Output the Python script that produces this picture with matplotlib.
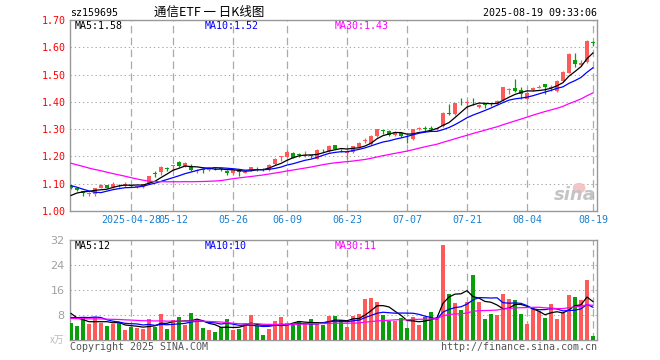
import numpy as np
import pandas as pd
import matplotlib
matplotlib.use('Agg')
import matplotlib.pyplot as plt
from matplotlib.patches import Ellipse

# daily bars 2025-04-14 .. 2025-08-19, 88 sessions
open_ = [1.090, 1.084, 1.072, 1.062, 1.064, 1.084, 1.096, 1.087, 1.096, 1.091,
         1.095, 1.088, 1.087, 1.104, 1.138, 1.143, 1.157, 1.166, 1.179, 1.166,
         1.161, 1.146, 1.153, 1.150, 1.161, 1.156, 1.145, 1.138, 1.146, 1.141,
         1.150, 1.162, 1.153, 1.152, 1.173, 1.197, 1.199, 1.213, 1.208, 1.203,
         1.205, 1.192, 1.228, 1.219, 1.241, 1.228, 1.213, 1.217, 1.235, 1.258,
         1.245, 1.274, 1.297, 1.294, 1.279, 1.287, 1.273, 1.263, 1.299, 1.304,
         1.303, 1.300, 1.311, 1.358, 1.354, 1.400, 1.396, 1.400, 1.380, 1.390,
         1.393, 1.392, 1.405, 1.445, 1.449, 1.442, 1.411, 1.442, 1.452, 1.464,
         1.452, 1.440, 1.477, 1.507, 1.555, 1.536, 1.545, 1.620]
high = [1.096, 1.087, 1.074, 1.070, 1.086, 1.098, 1.097, 1.106, 1.100, 1.106,
        1.097, 1.093, 1.100, 1.130, 1.146, 1.164, 1.162, 1.170, 1.183, 1.181,
        1.174, 1.154, 1.156, 1.160, 1.162, 1.160, 1.150, 1.151, 1.148, 1.146,
        1.163, 1.163, 1.157, 1.173, 1.195, 1.202, 1.225, 1.215, 1.214, 1.220,
        1.207, 1.228, 1.229, 1.243, 1.243, 1.229, 1.225, 1.240, 1.252, 1.268,
        1.278, 1.302, 1.298, 1.296, 1.293, 1.289, 1.278, 1.302, 1.309, 1.311,
        1.310, 1.305, 1.362, 1.392, 1.396, 1.415, 1.405, 1.415, 1.392, 1.395,
        1.397, 1.406, 1.456, 1.452, 1.483, 1.455, 1.435, 1.453, 1.463, 1.466,
        1.460, 1.480, 1.512, 1.580, 1.578, 1.552, 1.628, 1.622]
low = [1.080, 1.072, 1.055, 1.055, 1.056, 1.083, 1.084, 1.084, 1.088, 1.089,
       1.088, 1.085, 1.085, 1.100, 1.124, 1.132, 1.146, 1.152, 1.162, 1.162,
       1.147, 1.140, 1.140, 1.147, 1.152, 1.148, 1.133, 1.135, 1.130, 1.139,
       1.146, 1.147, 1.146, 1.148, 1.170, 1.183, 1.197, 1.193, 1.198, 1.198,
       1.195, 1.190, 1.215, 1.217, 1.226, 1.216, 1.192, 1.213, 1.232, 1.250,
       1.242, 1.271, 1.283, 1.274, 1.276, 1.270, 1.251, 1.260, 1.297, 1.293,
       1.295, 1.296, 1.309, 1.351, 1.352, 1.387, 1.375, 1.388, 1.376, 1.378,
       1.385, 1.390, 1.403, 1.430, 1.436, 1.410, 1.409, 1.440, 1.450, 1.428,
       1.440, 1.437, 1.475, 1.505, 1.528, 1.533, 1.543, 1.605]
close = [1.086, 1.076, 1.067, 1.066, 1.084, 1.096, 1.086, 1.100, 1.094, 1.099,
         1.093, 1.091, 1.098, 1.128, 1.135, 1.161, 1.155, 1.168, 1.164, 1.176,
         1.150, 1.151, 1.151, 1.157, 1.157, 1.153, 1.141, 1.149, 1.142, 1.144,
         1.161, 1.160, 1.150, 1.170, 1.192, 1.200, 1.217, 1.196, 1.206, 1.206,
         1.203, 1.225, 1.226, 1.239, 1.229, 1.226, 1.216, 1.238, 1.250, 1.261,
         1.276, 1.299, 1.295, 1.280, 1.288, 1.275, 1.270, 1.300, 1.306, 1.302,
         1.301, 1.303, 1.358, 1.356, 1.394, 1.398, 1.399, 1.398, 1.389, 1.389,
         1.391, 1.404, 1.454, 1.447, 1.440, 1.427, 1.433, 1.452, 1.456, 1.454,
         1.455, 1.477, 1.510, 1.576, 1.538, 1.544, 1.622, 1.617]
# volume in 万手
volume = [5.5, 4.5, 6.9, 5.1, 7.3, 5.5, 4.5, 5.1, 5.8, 3.2,
          4.3, 3.7, 3.6, 6.8, 4.3, 8.4, 3.6, 6.4, 7.3, 4.8,
          8.5, 6.4, 3.7, 3.2, 2.7, 4.3, 6.6, 3.2, 3.6, 5.6,
          8.0, 4.5, 1.6, 3.6, 6.1, 7.3, 5.3, 4.8, 6.1, 5.1,
          6.6, 5.1, 4.7, 7.7, 7.7, 6.4, 4.3, 7.7, 8.3, 13.1,
          13.4, 12.3, 7.9, 6.2, 6.2, 6.9, 4.0, 7.3, 4.8, 7.3,
          9.1, 7.2, 30.4, 14.7, 12.0, 9.6, 12.3, 20.8, 12.3, 6.7,
          8.3, 8.0, 14.7, 13.1, 12.8, 8.3, 5.1, 10.4, 9.4, 7.2,
          11.5, 6.7, 8.5, 14.4, 13.8, 12.8, 19.2, 1.3]

# sessions before the window, only needed so the moving averages start at the left edge
prev_close = [1.25, 1.24, 1.25, 1.24, 1.23, 1.25, 1.25, 1.24, 1.24, 1.25,
              1.24, 1.23, 1.238, 1.18, 1.17, 1.17, 1.16, 1.17, 1.16, 1.16,
              1.135, 1.14, 1.13, 1.13, 1.11, 1.031, 1.047, 1.056, 1.065]
prev_volume = [6.5, 7.0, 6.8, 7.2, 6.4, 6.9, 7.1, 6.6, 6.8, 6.5,
               7.0, 6.7, 6.9, 6.6, 6.8, 6.7, 6.9, 6.5, 6.8, 6.3,
               5.2, 5.6, 6.0, 5.4, 7.3, 11.5, 9.8, 8.4, 7.3]

tick_idx = [10, 17, 27, 36, 46, 56, 66, 76, 87]
tick_labels = ['2025-04-28', '05-12', '05-26', '06-09', '06-23', '07-07', '07-21', '08-04', '08-19']

RED = '#ff5a5a'
GREEN = '#0a9e0a'
GRID = '#aaaaaa'
MONO = 'DejaVu Sans Mono'
CJK = ['Noto Sans CJK SC', 'DejaVu Sans']
ma_colors = {5: 'black', 10: '#0000ff', 30: '#ff00ff'}

def moving_avgs(prev, vals):
    s = pd.Series(prev + vals)
    return {n: s.rolling(n).mean().iloc[len(prev):].to_numpy() for n in (5, 10, 30)}

o, h, l, c = map(np.array, (open_, high, low, close))
v = np.array(volume)
x = np.arange(len(c))
colors = np.where(c >= o, RED, GREEN)
ma_p = moving_avgs(prev_close, close)
ma_v = moving_avgs(prev_volume, volume)

fig = plt.figure(figsize=(6.6, 3.6), dpi=100)
W, H = 660, 360
ax = fig.add_axes([70 / W, 1 - 211 / H, 527 / W, 191 / H])
axv = fig.add_axes([70 / W, 1 - 340 / H, 527 / W, 100 / H])

xlim = (-0.17, 87.67)

# candles
ax.vlines(x, l, h, colors=colors, lw=0.9, zorder=3)
body = np.maximum(np.abs(c - o), 0.0025)
ax.bar(x, body, bottom=np.minimum(o, c), width=0.8, color=colors, lw=0, zorder=4)
for n in (5, 10, 30):
    ax.plot(x, ma_p[n], color=ma_colors[n], lw=0.9, zorder=5)

ax.set_xlim(*xlim)
ax.set_ylim(1.0, 1.7)
ax.set_yticks(np.round(np.arange(1.0, 1.71, 0.1), 2))
ax.set_yticklabels(['%.2f' % t for t in np.arange(1.0, 1.71, 0.1)], color='red',
                   fontsize=7.2, family=MONO)
ax.set_xticks(tick_idx)
ax.set_xticklabels(tick_labels, color='#1a80d0', fontsize=7.2, family=MONO)
ax.tick_params(length=0, pad=3)

# volume
axv.bar(x, v, width=0.82, color=colors, lw=0, zorder=3)
for n in (5, 10, 30):
    axv.plot(x, ma_v[n], color=ma_colors[n], lw=0.9, zorder=5)
axv.set_xlim(*xlim)
axv.set_ylim(0, 32)
axv.set_yticks([8, 16, 24, 32])
axv.set_yticklabels(['8', '16', '24', '32'], color='#a0a0a0', fontsize=8)
axv.set_xticks(tick_idx)
axv.set_xticklabels([])
axv.tick_params(length=0, pad=4)

for a in (ax, axv):
    a.grid(axis='y', color=GRID, lw=0.75, linestyle=(0, (1.3, 2.7)))
    a.grid(axis='x', color=GRID, lw=0.9, linestyle=(0, (6, 3.5)))
    a.set_axisbelow(True)
    for sp in a.spines.values():
        sp.set_color('#999999')
        sp.set_linewidth(1.0)

# watermark
ax.add_patch(Ellipse((0.966, 0.12), 0.024, 0.055, transform=ax.transAxes,
                     color='#f5c4c4', lw=0, zorder=1))
ax.text(0.998, 0.035, 'sina', transform=ax.transAxes, ha='right', va='bottom',
        fontsize=13, fontweight='bold', style='italic', color='#c4c4c4', zorder=1)

def px(xp, yp):
    return xp / W, 1 - yp / H

fig.text(*px(70, 13), 'sz159695', ha='left', va='center', fontsize=7.2, family=MONO)
fig.text(*px(209, 12), '通信ETF 一 日K线图', ha='center', va='center', fontsize=9, family=CJK)
fig.text(*px(597, 13), '2025-08-19 09:33:06', ha='right', va='center', fontsize=7.2, family=MONO)

for xp, n in zip((75, 205, 335), (5, 10, 30)):
    fig.text(*px(xp, 26), 'MA%d:%.2f' % (n, ma_p[n][-1]), color=ma_colors[n],
             ha='left', va='center', fontsize=7.2, family=MONO)
    fig.text(*px(xp, 246), 'MA%d:%d' % (n, round(ma_v[n][-1])), color=ma_colors[n],
             ha='left', va='center', fontsize=7.2, family=MONO)

fig.text(*px(64, 340), 'x万', ha='right', va='center', fontsize=7, color='#bbbbbb', family=CJK)
fig.text(*px(70, 347), 'Copyright 2025 SINA.COM', ha='left', va='center', fontsize=7.2,
         color='#555555', family=MONO)
fig.text(*px(597, 347), 'http://finance.sina.com.cn', ha='right', va='center', fontsize=7.2,
         color='#555555', family=MONO)

fig.savefig('out.png', dpi=100)
